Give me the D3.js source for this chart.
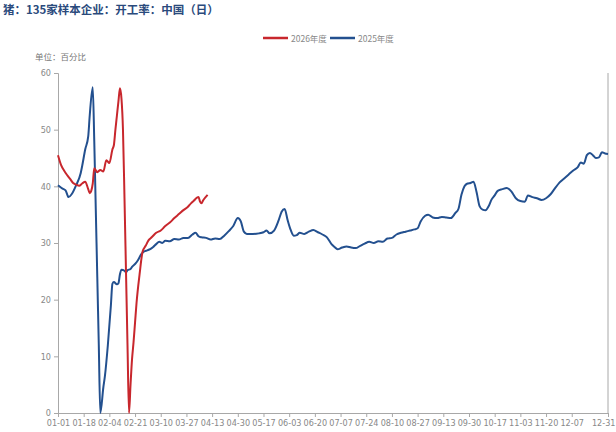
<!DOCTYPE html>
<html><head><meta charset="utf-8">
<script src="https://cdn.jsdelivr.net/npm/d3@7"></script>
<style>
html,body{margin:0;padding:0;background:#fff;}
svg{display:block;font-family:"Noto Sans CJK SC","Noto Sans",sans-serif;}
</style></head>
<body><svg id="c" width="616" height="432"></svg>
<script>
const title = "猪：135家样本企业：开工率：中国（日）";
const unitLabel = "单位：百分比";
const seriesNames = ["2026年度", "2025年度"];
const xTickLabels = ["01-01","01-18","02-04","02-21","03-10","03-27","04-13","04-30","05-17","06-03","06-20","07-07","07-24","08-10","08-27","09-13","09-30","10-17","11-03","11-20","12-07","12-31"];
const yTicks = [0,10,20,30,40,50,60];

const dates2025 = ["01-01","01-04","01-06","01-08","01-10","01-13","01-16","01-17","01-19","01-21","01-22","01-24","01-25","01-26","01-27","01-28","01-29","01-31","02-01","02-03","02-05","02-06","02-07","02-09","02-10","02-11","02-12","02-14","02-15","02-16","02-18","02-19","02-21","02-23","02-25","02-27","03-01","03-03","03-05","03-07","03-09","03-11","03-13","03-16","03-19","03-22","03-25","03-28","03-31","04-02","04-04","04-06","04-09","04-12","04-15","04-18","04-21","04-24","04-27","04-30","05-02","05-04","05-06","05-10","05-14","05-17","05-19","05-21","05-24","05-27","05-29","05-31","06-02","06-04","06-06","06-08","06-10","06-13","06-16","06-19","06-22","06-25","06-28","07-01","07-03","07-05","07-08","07-11","07-14","07-17","07-20","07-23","07-26","07-29","08-01","08-04","08-07","08-10","08-13","08-16","08-19","08-22","08-25","08-27","08-29","09-01","09-03","09-06","09-09","09-12","09-15","09-18","09-21","09-23","09-25","09-27","09-29","10-01","10-03","10-05","10-07","10-09","10-11","10-13","10-15","10-17","10-19","10-22","10-25","10-28","10-31","11-03","11-06","11-08","11-11","11-14","11-17","11-20","11-23","11-26","11-29","12-02","12-05","12-08","12-11","12-13","12-15","12-17","12-19","12-21","12-23","12-25","12-27","12-29","12-31"];
const values2025 = [40.2,39.6,39.3,38.1,38.6,40.2,42.3,43.6,46.5,48.8,52.5,57.5,48,36,24,12,0,4.5,6.4,12,19,22.8,23.1,22.7,22.9,24.5,25.3,25.1,24.8,25.2,25.4,25.8,26.3,27,28,28.5,28.7,28.9,29.3,29.8,30.2,30,30.4,30.3,30.7,30.6,30.9,30.9,31.5,31.8,31.2,31,30.9,30.6,30.8,30.7,31.3,32.1,33,34.4,33.8,32,31.6,31.6,31.7,31.9,32.2,31.7,32.2,34,35.5,36,34,32.3,31.3,31.4,31.8,31.6,32,32.3,31.9,31.5,31,29.8,29.3,28.9,29.2,29.4,29.2,29.1,29.5,29.9,30.2,30,30.3,30.2,30.8,30.9,31.5,31.8,32,32.2,32.4,32.6,33.8,34.8,35,34.5,34.4,34.6,34.5,34.4,35.3,36,38.5,40,40.5,40.6,40.8,39,36.5,35.9,35.8,36.5,37.7,38.4,39.2,39.5,39.7,39.1,37.9,37.4,37.3,38.4,38.1,37.9,37.6,37.9,38.6,39.7,40.7,41.4,42.1,42.8,43.4,44.2,44,45.5,45.9,45.5,45,45.1,46,45.8,45.7];

const dates2026 = ["01-01","01-03","01-05","01-07","01-09","01-11","01-13","01-15","01-17","01-19","01-21","01-22","01-23","01-24","01-25","01-27","01-29","01-31","02-02","02-04","02-06","02-07","02-08","02-09","02-10","02-11","02-12","02-13","02-14","02-15","02-16","02-17","02-18","02-19","02-20","02-21","02-22","02-24","02-26","02-28","03-02","03-04","03-07","03-10","03-13","03-16","03-19","03-22","03-25","03-28","03-30","04-01","04-03","04-04","04-05","04-06","04-07","04-09","04-10"];
const values2026 = [45.5,43.8,42.8,42,41.3,40.6,40.3,40.1,40.5,40.8,39.5,38.8,39.2,40.5,43.2,42.5,42.9,42.6,44.6,44.1,46.5,47.3,50,52.5,55,57.3,55.5,50,38,25,12,0,5,9.5,12.5,16,19.5,24.5,28.5,29.5,30.5,31,31.8,32.2,33,33.6,34.4,35.1,35.8,36.4,37,37.5,38,38.1,37.3,37,37.5,38.2,38.5];

const colors = {"2026年度":"#c8272d","2025年度":"#23508f"};

const svg = d3.select("#c");
const margin = {left:58, right:8, top:73, bottom:19};
const W = 616, H = 432;
const parse = d3.timeParse("%Y-%m-%d");
const base = parse("2025-01-01");
const dayOf = s => Math.round((parse("2025-" + s) - base) / 864e5);

const x = d3.scaleLinear().domain([0, 364]).range([margin.left, W - margin.right]);
const y = d3.scaleLinear().domain([0, 60]).range([H - margin.bottom, margin.top]);

// title
svg.append("text").attr("x", 3).attr("y", 14).attr("font-size", 11.5).attr("font-weight", "bold")
  .attr("fill", "#2a4a7c").text(title);

// unit
svg.append("text").attr("x", 35).attr("y", 60).attr("font-size", 8.5).attr("fill", "#777").text(unitLabel);

// legend
const legend = svg.append("g");
const legendItems = [{name: seriesNames[0], x: 263}, {name: seriesNames[1], x: 330}];
legendItems.forEach(it => {
  legend.append("line").attr("x1", it.x).attr("x2", it.x + 25).attr("y1", 38).attr("y2", 38)
    .attr("stroke", colors[it.name]).attr("stroke-width", 2.5);
  legend.append("text").attr("x", it.x + 28).attr("y", 41.5).attr("font-size", 8.5).attr("fill", "#888").text(it.name);
});

// axes
const axisColor = "#a8a8a8";
const tickDays = xTickLabels.map(dayOf);
const xAxis = d3.axisBottom(x).tickValues(tickDays).tickSize(4).tickPadding(3)
  .tickFormat((d, i) => xTickLabels[i]);
const gx = svg.append("g").attr("transform", `translate(0,${y(0)})`).call(xAxis);
gx.select(".domain").attr("stroke", axisColor);
gx.selectAll(".tick line").attr("stroke", axisColor);
gx.selectAll(".tick text").attr("fill", "#888").attr("font-size", 9).attr("font-family", "DejaVu Sans Condensed, DejaVu Sans, sans-serif");
// keep last label inside the frame
gx.selectAll(".tick text").filter((d, i) => i === xTickLabels.length - 1)
  .attr("text-anchor", "end").attr("dx", 7);

const yAxis = d3.axisLeft(y).tickValues(yTicks).tickSize(4).tickPadding(3);
const gy = svg.append("g").attr("transform", `translate(${margin.left},0)`).call(yAxis);
gy.select(".domain").attr("stroke", axisColor);
gy.selectAll(".tick line").attr("stroke", axisColor);
gy.selectAll(".tick text").attr("fill", "#888").attr("font-size", 9).attr("font-family", "DejaVu Sans Condensed, DejaVu Sans, sans-serif");

// right border line
svg.append("line").attr("x1", x(364)).attr("x2", x(364)).attr("y1", y(60)).attr("y2", y(0))
  .attr("stroke", axisColor).attr("stroke-width", 1);

// lines
const line = d3.line().x(d => x(d.day)).y(d => y(d.v)).curve(d3.curveMonotoneX);
const s2025 = dates2025.map((d, i) => ({day: dayOf(d), v: values2025[i]}));
const s2026 = dates2026.map((d, i) => ({day: dayOf(d), v: values2026[i]}));
svg.append("path").datum(s2025).attr("d", line).attr("fill", "none")
  .attr("stroke", colors["2025年度"]).attr("stroke-width", 2).attr("stroke-linejoin", "round");
svg.append("path").datum(s2026).attr("d", line).attr("fill", "none")
  .attr("stroke", colors["2026年度"]).attr("stroke-width", 2).attr("stroke-linejoin", "round");
</script></body></html>
